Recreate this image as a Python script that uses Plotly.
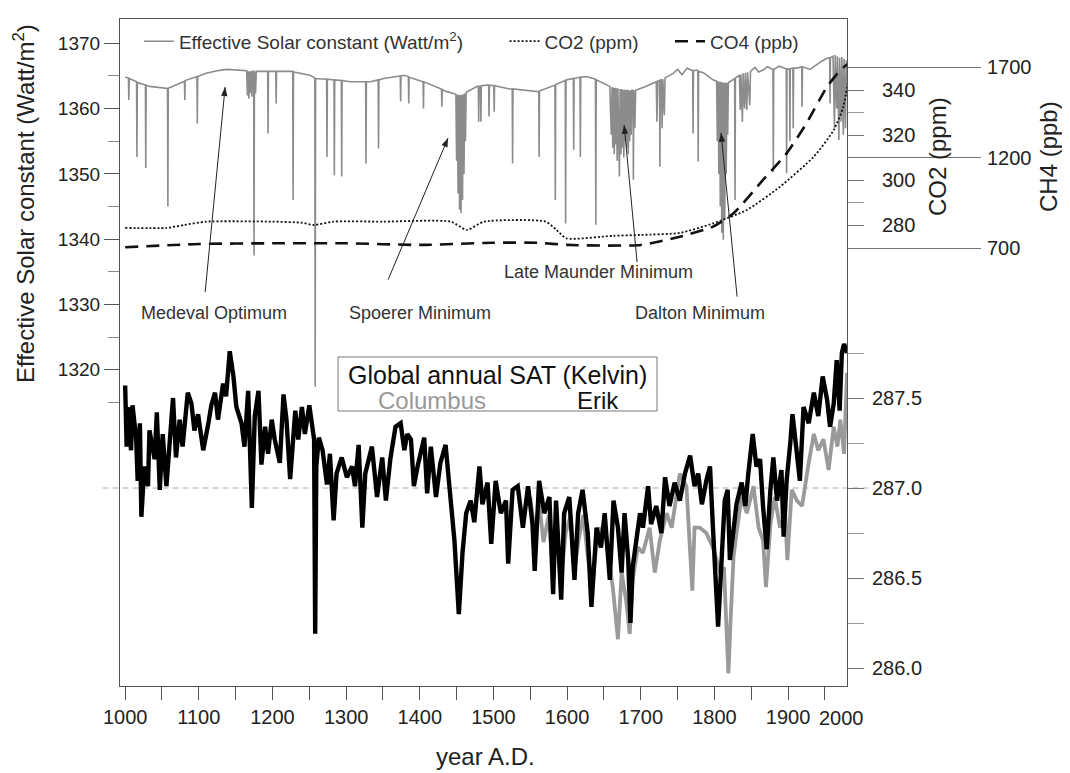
import math
import plotly.graph_objects as go

# ---------------- data ----------------
solar_pts = [
    (1000, 1364.8),
    (1004.5, 1364.7), (1005, 1361.3), (1005.5, 1364.6),
    (1015.5, 1364.1), (1016, 1352.6), (1016.5, 1364.0),
    (1027.5, 1363.6), (1028, 1350.9), (1028.5, 1363.6),
    (1033, 1363.4),
    (1057.5, 1363.1), (1058, 1345.0), (1058.5, 1363.1),
    (1079, 1364.1),
    (1080.5, 1364.2), (1081, 1361.3), (1081.5, 1364.3),
    (1097.5, 1364.9), (1098, 1357.7), (1098.5, 1364.9),
    (1110, 1365.4), (1125, 1365.8), (1138, 1366.0), (1156, 1365.9),
    (1165, 1365.8), (1166, 1362.0), (1167, 1365.7), (1168, 1361.5), (1169, 1365.7),
    (1170, 1362.4), (1171, 1365.7), (1172, 1361.8), (1173, 1365.7),
    (1174.5, 1365.7), (1175, 1337.5), (1175.5, 1365.7), (1177, 1362.3), (1178, 1365.7),
    (1193.5, 1365.7), (1194, 1356.2), (1194.5, 1365.7),
    (1204.5, 1365.7), (1205, 1360.8), (1205.5, 1365.7),
    (1227.5, 1365.7), (1228, 1346.0), (1228.5, 1365.6),
    (1251, 1365.1),
    (1257.5, 1364.7), (1258, 1317.4), (1258.5, 1364.6),
    (1273.5, 1364.5), (1274, 1352.6), (1274.5, 1364.5),
    (1283.5, 1364.4), (1284, 1349.8), (1284.5, 1364.4),
    (1293.5, 1364.3), (1294, 1349.6), (1294.5, 1364.3),
    (1305, 1364.1),
    (1326.5, 1364.1), (1327, 1351.6), (1327.5, 1364.1),
    (1333, 1364.1),
    (1343.5, 1364.4), (1344, 1353.9), (1344.5, 1364.4),
    (1351, 1364.6),
    (1373.5, 1365.0), (1374, 1361.1), (1374.5, 1365.0),
    (1378, 1365.1),
    (1384.5, 1364.9), (1385, 1360.8), (1385.5, 1364.8),
    (1404.5, 1364.1), (1405, 1360.0), (1405.5, 1364.1),
    (1429.5, 1363.0), (1430, 1360.3), (1430.5, 1362.9),
    (1437, 1362.6),
    (1449, 1362.2), (1450, 1352.0), (1451, 1362.1), (1452, 1347.0), (1453, 1362.1),
    (1454, 1344.5), (1455, 1362.1), (1456, 1344.0), (1457, 1362.1), (1458, 1346.0),
    (1459, 1362.2), (1460, 1350.0), (1461, 1362.3), (1462, 1355.0), (1463, 1362.5),
    (1478, 1363.4),
    (1479.5, 1363.4), (1480, 1358.0), (1480.5, 1363.4),
    (1482.5, 1363.4), (1483, 1358.0), (1483.5, 1363.5),
    (1492, 1363.6),
    (1493.5, 1363.6), (1494, 1358.8), (1494.5, 1363.6),
    (1500.5, 1363.5), (1501, 1359.5), (1501.5, 1363.5),
    (1522, 1363.0),
    (1525.5, 1363.0), (1526, 1351.6), (1526.5, 1363.0),
    (1561.5, 1362.6), (1562, 1352.6), (1562.5, 1362.7),
    (1583.5, 1363.6), (1584, 1346.0), (1584.5, 1363.7),
    (1597.5, 1364.3), (1598, 1342.4), (1598.5, 1364.4),
    (1608.5, 1364.6), (1609, 1353.7), (1609.5, 1364.6),
    (1617.5, 1364.8), (1618, 1352.6), (1618.5, 1364.8),
    (1626, 1364.9),
    (1638.5, 1364.5), (1639, 1342.2), (1639.5, 1364.4),
    (1658, 1363.4),
    (1660, 1356.0), (1661, 1363.3), (1662, 1354.0), (1663, 1363.2), (1664, 1353.0),
    (1665, 1363.2), (1666, 1354.5), (1667, 1363.1), (1668, 1352.0), (1669, 1363.1),
    (1671, 1349.6), (1672, 1363.0), (1673, 1353.0), (1674, 1363.0), (1675, 1354.0),
    (1676, 1362.9), (1677, 1352.5), (1678, 1362.9), (1679, 1355.0), (1680, 1362.9),
    (1681, 1354.0), (1682, 1362.9), (1683, 1353.0), (1684, 1362.8), (1685, 1355.0),
    (1686, 1362.8), (1687, 1356.0), (1688, 1362.8), (1689.5, 1362.8), (1690, 1349.1),
    (1690.5, 1362.8), (1692, 1357.0), (1693, 1362.8),
    (1705, 1363.3), (1717, 1363.9),
    (1721, 1364.1), (1722, 1358.0), (1723, 1364.2), (1725.5, 1364.3), (1726, 1351.1),
    (1726.5, 1364.3), (1728, 1364.4), (1729, 1357.0), (1730, 1364.5), (1732, 1359.0),
    (1733, 1364.7),
    (1744, 1365.4), (1750, 1366.0), (1756, 1365.2), (1763, 1366.2),
    (1770.5, 1365.8), (1771, 1356.2), (1771.5, 1365.8), (1776, 1365.9),
    (1777.5, 1365.8), (1778, 1351.9), (1778.5, 1365.7), (1785, 1365.5), (1798, 1364.4),
    (1803, 1364.2), (1804, 1355.0), (1805, 1364.2), (1806, 1350.0), (1807, 1364.1),
    (1808, 1345.0), (1809, 1364.1), (1810, 1341.0), (1811, 1364.0), (1812, 1339.9),
    (1813, 1364.0), (1814, 1343.0), (1815, 1364.0), (1816, 1350.0), (1817, 1363.9),
    (1818, 1356.0), (1819, 1364.0),
    (1827.5, 1364.6), (1828, 1346.0), (1828.5, 1364.7),
    (1834, 1365.1), (1835, 1359.8), (1836, 1365.2), (1838, 1358.0), (1839, 1365.4),
    (1841, 1360.0), (1842, 1365.5), (1844, 1359.8), (1845, 1365.6), (1848, 1360.5),
    (1849, 1365.7),
    (1855, 1366.3), (1860, 1365.6), (1866, 1365.9), (1872, 1366.4),
    (1879.5, 1366.0), (1880, 1350.3), (1880.5, 1366.0),
    (1888, 1366.5),
    (1897.5, 1366.1), (1898, 1350.1), (1898.5, 1366.1),
    (1902, 1366.0), (1902.5, 1355.0), (1903, 1366.1),
    (1906.5, 1366.2), (1907, 1357.0), (1907.5, 1366.2),
    (1912, 1366.2),
    (1918.5, 1366.4), (1919, 1360.3), (1919.5, 1366.4),
    (1930, 1366.0), (1939, 1366.7), (1946, 1367.3), (1953, 1367.7),
    (1956.5, 1367.8), (1957, 1360.8), (1957.5, 1367.8),
    (1961, 1368.0), (1963, 1357.0), (1964, 1368.2), (1966, 1360.0), (1967, 1368.0),
    (1969, 1355.2), (1970, 1367.8), (1972, 1358.0), (1973, 1367.9), (1975, 1356.0),
    (1976, 1367.6), (1978, 1357.0), (1979, 1367.4), (1980, 1362.0),
]
solar_years = [p[0] for p in solar_pts]
solar_vals = [p[1] for p in solar_pts]

co2_years = [1000, 1056, 1080, 1110, 1200, 1240, 1256, 1283, 1350, 1442, 1464, 1487,
             1571, 1585, 1599, 1662, 1700, 1753, 1798, 1844, 1889, 1935, 1962, 1975, 1982]
co2_vals = [278.7, 278.7, 280.0, 281.5, 281.5, 281.0, 280.0, 281.5, 281.5, 281.5, 277.8, 281.5,
            281.5, 278.0, 274.1, 275.2, 275.6, 276.5, 280.7, 286.7, 297.0, 310.4, 322.2, 332.6, 345.0]

ch4_years = [1000, 1100, 1200, 1300, 1400, 1500, 1560, 1600, 1700, 1753, 1798, 1826,
             1866, 1898, 1925, 1953, 1971, 1982]
ch4_vals = [704, 722, 726, 726, 717, 729, 729, 717, 717, 762, 818, 892,
            1076, 1223, 1389, 1591, 1683, 1720]

erik_years = [1000, 1002, 1004, 1008, 1010, 1015, 1017, 1020, 1022, 1026, 1031, 1033, 1040, 1043,
              1047, 1051, 1056, 1060, 1065, 1069, 1074, 1078, 1085, 1090, 1094, 1099, 1106, 1113,
              1117, 1122, 1126, 1133, 1137, 1142, 1147, 1151, 1158, 1162, 1167, 1172, 1176, 1181,
              1185, 1190, 1194, 1199, 1203, 1210, 1215, 1219, 1224, 1231, 1235, 1240, 1244, 1250,
              1256.5, 1258, 1259.5, 1263, 1268, 1274, 1278, 1283, 1287, 1294, 1301, 1308, 1312, 1317,
              1322, 1326, 1329, 1335, 1342, 1349, 1354, 1360, 1367, 1374, 1379, 1383, 1388, 1392,
              1397, 1406, 1410, 1415, 1422, 1428, 1435, 1442, 1447, 1453, 1458, 1463, 1469, 1474,
              1481, 1485, 1492, 1497, 1503, 1510, 1517, 1520, 1526, 1533, 1540, 1547, 1553, 1556,
              1562, 1569, 1576, 1581, 1585, 1592, 1596, 1603, 1610, 1615, 1621, 1628, 1633, 1640,
              1646, 1651, 1658, 1663, 1669, 1674, 1678, 1683, 1686, 1689, 1694, 1699, 1703, 1710,
              1714, 1721, 1728, 1733, 1739, 1746, 1753, 1760, 1767, 1773, 1778, 1783, 1789, 1794,
              1798, 1802, 1805, 1810, 1814, 1818, 1821, 1826, 1830, 1837, 1842, 1846, 1852, 1857,
              1862, 1866, 1871, 1876, 1880, 1885, 1891, 1894, 1898, 1903, 1906, 1912, 1916, 1921,
              1928, 1935, 1941, 1947, 1953, 1957, 1962, 1966, 1970, 1973, 1976, 1980]
erik_vals = [287.57, 287.23, 287.45, 287.21, 287.46, 287.27, 287.04, 287.36, 286.84, 287.12, 287.01,
             287.32, 287.16, 287.42, 286.99, 287.30, 287.01, 287.21, 287.50, 287.17, 287.38, 287.23,
             287.53, 287.47, 287.32, 287.41, 287.21, 287.36, 287.46, 287.53, 287.38, 287.58, 287.51,
             287.76, 287.62, 287.45, 287.36, 287.23, 287.54, 286.89, 287.40, 287.54, 287.13, 287.34,
             287.19, 287.38, 287.27, 287.14, 287.52, 287.38, 287.05, 287.43, 287.27, 287.45, 287.30,
             287.46, 287.27, 286.19, 287.12, 287.28, 287.21, 287.02, 287.19, 286.82, 287.08, 287.17,
             287.06, 287.12, 287.01, 287.24, 286.78, 287.08, 287.14, 287.23, 286.95, 287.17, 286.93,
             287.16, 287.34, 287.36, 287.21, 287.30, 287.27, 287.01, 287.12, 287.28, 286.97, 287.23,
             286.95, 287.14, 287.24, 286.93, 286.71, 286.30, 286.64, 286.86, 286.93, 286.81, 287.12,
             286.91, 287.03, 286.69, 287.04, 286.86, 286.93, 286.58, 286.99, 287.01, 286.78, 287.01,
             286.80, 286.54, 287.04, 286.86, 286.95, 286.41, 286.93, 286.38, 286.86, 286.95, 286.49,
             286.86, 286.99, 286.75, 286.34, 286.78, 286.67, 286.86, 286.49, 286.93, 286.78, 286.53,
             286.86, 286.60, 286.25, 286.56, 286.73, 286.86, 286.78, 287.01, 286.80, 286.90, 286.75,
             287.06, 286.90, 287.03, 286.93, 287.08, 287.18, 287.01, 287.08, 286.91, 287.04, 287.12,
             286.78, 286.41, 286.23, 286.62, 286.93, 286.99, 286.60, 286.77, 286.91, 287.03, 286.90,
             287.08, 287.30, 287.12, 287.16, 286.90, 286.66, 286.99, 287.17, 286.93, 287.10, 286.73,
             287.04, 287.25, 287.41, 287.19, 287.04, 287.45, 287.36, 287.53, 287.40, 287.62, 287.49,
             287.34, 287.47, 287.71, 287.43, 287.75, 287.80, 287.75]

columbus_years = [1550, 1556, 1562, 1568, 1575, 1580, 1586, 1592, 1598, 1605, 1610, 1616, 1622, 1628,
                  1634, 1640, 1644, 1653, 1662, 1669, 1674, 1680, 1685, 1689, 1696, 1703, 1712, 1719,
                  1726, 1735, 1742, 1753, 1762, 1770, 1773, 1780, 1789, 1798, 1808, 1813, 1817, 1819,
                  1822, 1826, 1830, 1837, 1844, 1853, 1860, 1866, 1870, 1876, 1882, 1889, 1896, 1899,
                  1905, 1912, 1919, 1923, 1928, 1935, 1941, 1948, 1955, 1962, 1967, 1971, 1976, 1980]
columbus_vals = [286.95, 286.75, 286.92, 286.70, 286.85, 286.58, 286.80, 286.50, 286.75, 286.85, 286.55,
                 286.72, 286.85, 286.62, 286.45, 286.70, 286.78, 286.71, 286.45, 286.16, 286.53, 286.38,
                 286.19, 286.49, 286.67, 286.64, 286.78, 286.53, 286.71, 286.86, 286.78, 287.08, 287.01,
                 286.43, 286.78, 286.78, 286.75, 286.67, 286.53, 286.56, 286.16, 285.97, 286.27, 286.62,
                 286.75, 286.95, 286.86, 287.01, 286.78, 286.71, 286.45, 286.80, 286.95, 286.78, 286.86,
                 286.60, 286.99, 286.93, 286.90, 287.01, 287.14, 287.30, 287.21, 287.27, 287.10, 287.34,
                 287.23, 287.38, 287.19, 287.64]

x_ticks = [1000, 1100, 1200, 1300, 1400, 1500, 1600, 1700, 1800, 1900]
x_minor = [1050, 1150, 1250, 1350, 1450, 1550, 1650, 1750, 1850, 1950]
solar_ticks = [1320, 1330, 1340, 1350, 1360, 1370]
solar_minor = [1315, 1325, 1335, 1345, 1355, 1365]
co2_ticks = [280, 300, 320, 340]
co2_minor = [290, 310, 330]
ch4_ticks = [700, 1200, 1700]
sat_ticks = [286.0, 286.5, 287.0, 287.5]
sat_minor = [286.25, 286.75, 287.25, 287.75]

# event annotations: label, label position, arrow head, arrow tail (solar-axis data coords)
event_labels = ["Medeval Optimum", "Spoerer Minimum", "Late Maunder Minimum", "Dalton Minimum"]
event_label_xy = [(1120.8, 1328.7), (1400.4, 1328.7), (1642.0, 1335.0), (1780.5, 1328.7)]
event_heads = [(1135.7, 1363.3), (1438.4, 1355.5), (1677.4, 1357.5), (1809.0, 1356.3)]
event_tails = [(1108.6, 1331.9), (1357.0, 1333.8), (1695.0, 1336.5), (1830.8, 1331.2)]

# ---------------- figure ----------------
FONT = "Liberation Sans, Arial, sans-serif"
GREY = "#8c8c8c"
AX = "#555555"
X_RANGE = [993, 1980]
SOLAR_RANGE = [1271.58, 1373.72]
PLOT_W, PLOT_H = 727, 667

fig = go.Figure()

fig.add_trace(go.Scatter(x=solar_years, y=solar_vals, mode="lines", yaxis="y",
                         name="Effective Solar constant (Watt/m<sup>2</sup>)", legend="legend",
                         line=dict(color=GREY, width=1.6)))
fig.add_trace(go.Scatter(x=co2_years, y=co2_vals, mode="lines", yaxis="y2",
                         name="CO2 (ppm)", legend="legend2",
                         line=dict(color="#111", width=1.8, dash="2px,2px",
                                   shape="spline", smoothing=0.6)))
fig.add_trace(go.Scatter(x=ch4_years, y=ch4_vals, mode="lines", yaxis="y3",
                         name="CO4 (ppb)", legend="legend3",
                         line=dict(color="#111", width=2.6, dash="13px,8px",
                                   shape="spline", smoothing=0.6)))
fig.add_trace(go.Scatter(x=columbus_years, y=columbus_vals, mode="lines", yaxis="y4",
                         name="Columbus", showlegend=False,
                         line=dict(color="#9a9a9a", width=3.8)))
fig.add_trace(go.Scatter(x=erik_years, y=erik_vals, mode="lines", yaxis="y4",
                         name="Erik", showlegend=False,
                         line=dict(color="#000", width=4.4)))

tickfont_l = dict(family=FONT, size=19, color="#222")
tickfont_r = dict(family=FONT, size=20, color="#222")
legfont = dict(family=FONT, size=19, color="#333")

def leg(x):
    return dict(orientation="h", x=x, y=0.995, xanchor="left", yanchor="top",
                bgcolor="rgba(0,0,0,0)", font=legfont, itemwidth=30)

# page body has an 8px margin: figure is 1062x765 so that the plot area sits at 120..847 x 19..686
fig.update_layout(
    width=1062, height=765, template="none",
    paper_bgcolor="white", plot_bgcolor="white",
    margin=dict(l=112, r=223, t=11, b=87),
    font=dict(family=FONT, color="#222"),
    showlegend=True,
    legend=leg(0.026), legend2=leg(0.529), legend3=leg(0.7565),
    xaxis=dict(range=X_RANGE, tickmode="array", tickvals=x_ticks,
               ticktext=[str(v) for v in x_ticks],
               ticks="outside", ticklen=13, tickcolor=AX, showline=True, linecolor=AX,
               linewidth=1.2, mirror=True, showgrid=False, zeroline=False,
               minor=dict(tickmode="array", tickvals=x_minor, ticks="outside", ticklen=13,
                          tickcolor=AX, showgrid=False),
               tickfont=dict(family=FONT, size=20, color="#222"), automargin=False),
    yaxis=dict(range=SOLAR_RANGE, tickmode="array", tickvals=solar_ticks,
               ticktext=[str(v) for v in solar_ticks],
               ticks="outside", ticklen=15, tickcolor=AX, showline=True, linecolor=AX,
               linewidth=1.2, mirror=True, showgrid=False, zeroline=False,
               minor=dict(tickmode="array", tickvals=solar_minor, ticks="outside", ticklen=11,
                          tickcolor="#888", showgrid=False),
               tickfont=tickfont_l, automargin=False),
    yaxis2=dict(overlaying="y", side="right", anchor="x", range=[75.11, 371.56],
                tickmode="array", tickvals=co2_ticks, ticktext=[str(v) for v in co2_ticks],
                ticks="outside", ticklen=16, tickcolor="#777", showline=False, showgrid=False,
                minor=dict(tickmode="array", tickvals=co2_minor, ticks="outside", ticklen=16,
                           tickcolor="#999", showgrid=False),
                zeroline=False, tickfont=tickfont_r, ticklabelstandoff=14, automargin=False),
    yaxis3=dict(overlaying="y", side="right", anchor="x", range=[-1719.9, 1965.2],
                tickmode="array", tickvals=ch4_ticks, ticktext=[str(v) for v in ch4_ticks],
                ticks="outside", ticklen=133, tickcolor="#777", showline=False, showgrid=False,
                zeroline=False, tickfont=tickfont_r, ticklabelstandoff=2, automargin=False),
    yaxis4=dict(overlaying="y", side="right", anchor="x", range=[285.9, 289.606],
                tickmode="array", tickvals=sat_ticks, ticktext=[f"{v:.1f}" for v in sat_ticks],
                ticks="outside", ticklen=16, tickcolor="#777", showline=False, showgrid=False,
                minor=dict(tickmode="array", tickvals=sat_minor, ticks="outside", ticklen=16,
                           tickcolor="#999", showgrid=False),
                zeroline=False, tickfont=tickfont_r, ticklabelstandoff=4, automargin=False),
)

# dashed 287.0 K reference line
fig.add_shape(type="line", xref="paper", x0=-0.024, x1=1.03, yref="y4", y0=287.0, y1=287.0,
              line=dict(color="#aaaaaa", width=1, dash="6px,4px"), layer="below")

# SAT legend box
fig.add_shape(type="rect", xref="paper", yref="paper", x0=0.2999, x1=0.7387, y0=0.4123, y1=0.4933,
              line=dict(color="#777", width=1), fillcolor="white", layer="above")

# arrows: shaft in data coords, arrow head as a pixel-sized triangle anchored at the head
sx = PLOT_W / (X_RANGE[1] - X_RANGE[0])
sy = PLOT_H / (SOLAR_RANGE[1] - SOLAR_RANGE[0])
for (hx, hy), (tx, ty) in zip(event_heads, event_tails):
    fig.add_shape(type="line", xref="x", yref="y", x0=tx, y0=ty, x1=hx, y1=hy,
                  line=dict(color="#222", width=1))
    ux, uy = (hx - tx) * sx, (hy - ty) * sy
    n = math.hypot(ux, uy)
    ux, uy = ux / n, uy / n
    L, W = 9.0, 3.2
    bx, by = -L * ux, -L * uy
    p1 = (bx - W * uy, by + W * ux)
    p2 = (bx + W * uy, by - W * ux)
    path = f"M 0 0 L {p1[0]:.2f} {p1[1]:.2f} L {p2[0]:.2f} {p2[1]:.2f} Z"
    fig.add_shape(type="path", xref="x", yref="y", xsizemode="pixel", ysizemode="pixel",
                  xanchor=hx, yanchor=hy, path=path, fillcolor="#222", line=dict(width=0))

ann = []
def txt(text, x, y, size, color="#222", xref="paper", yref="paper", angle=0):
    ann.append(dict(text=text, x=x, y=y, xref=xref, yref=yref, showarrow=False,
                    textangle=angle, xanchor="center", yanchor="middle",
                    font=dict(family=FONT, size=size, color=color)))

txt("Global annual SAT (Kelvin)", 0.5186, 0.4663, 25, "#111")
txt("Columbus", 0.4292, 0.4273, 24, "#999999")
txt("Erik", 0.6575, 0.4273, 24, "#111")

txt("Effective Solar constant (Watt/m<sup>2</sup>)", -0.132, 0.7226, 24, angle=-90)
txt("CO2 (ppm)", 1.1238, 0.7931, 24, angle=-90)
txt("CH4 (ppb)", 1.2765, 0.7931, 24, angle=-90)
txt("year A.D.", 0.5034, -0.1064, 24)
txt("2000", 0.9931, -0.048, 20)

for label, (lx, ly) in zip(event_labels, event_label_xy):
    txt(label, lx, ly, 18, "#333", xref="x", yref="y")

fig.update_layout(annotations=ann)

fig.write_html("out.html")
